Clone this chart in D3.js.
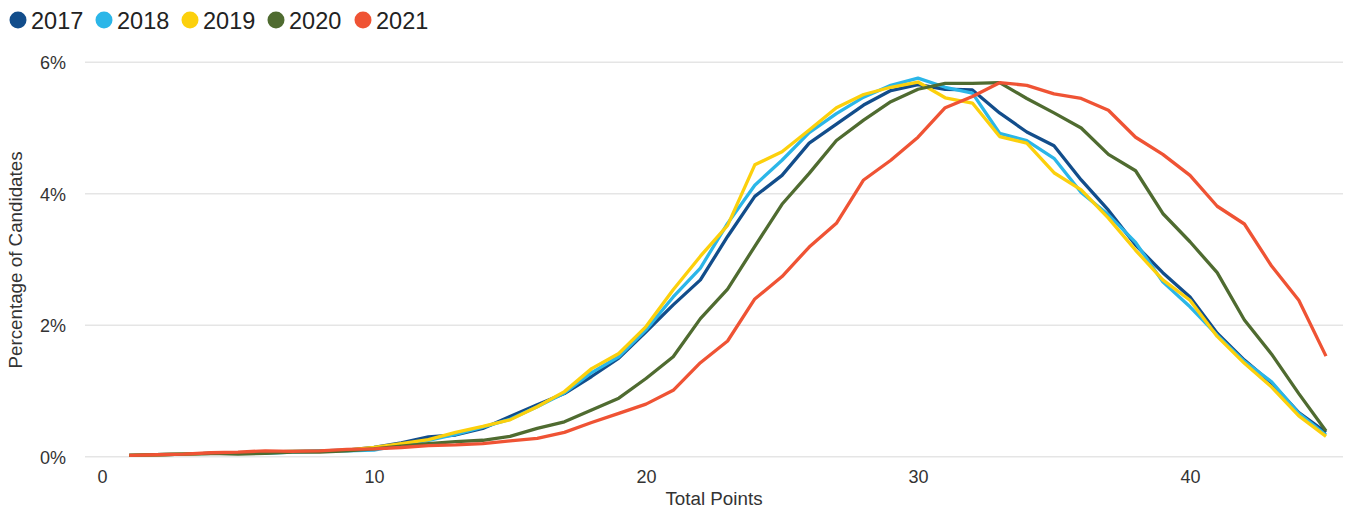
<!DOCTYPE html>
<html><head><meta charset="utf-8">
<script src="https://cdn.jsdelivr.net/npm/d3@7"></script>
<style>body{margin:0;background:#fff;font-family:"Liberation Sans",Arial,sans-serif;}</style>
</head><body><svg id="c" width="1349" height="514"></svg>
<script>
const points = d3.range(1, 46);
const years = ["2017","2018","2019","2020","2021"];
const colors = ["#124d8b","#2bb6e8","#fcd00c","#4f6b30","#ef5334"];
const s2017 = [0.02,0.03,0.04,0.05,0.06,0.07,0.08,0.09,0.10,0.14,0.21,0.30,0.33,0.43,0.61,0.79,0.96,1.22,1.50,1.90,2.31,2.69,3.35,3.96,4.28,4.77,5.06,5.35,5.57,5.66,5.59,5.58,5.23,4.94,4.73,4.21,3.75,3.22,2.80,2.43,1.88,1.47,1.12,0.67,0.37];
const s2018 = [0.02,0.03,0.04,0.05,0.06,0.05,0.07,0.08,0.09,0.10,0.18,0.25,0.34,0.45,0.57,0.76,0.97,1.28,1.52,1.93,2.43,2.87,3.55,4.13,4.51,4.93,5.22,5.47,5.65,5.76,5.62,5.53,4.92,4.81,4.54,4.02,3.68,3.26,2.66,2.28,1.85,1.45,1.14,0.66,0.33];
const s2019 = [0.02,0.03,0.04,0.05,0.06,0.07,0.08,0.08,0.10,0.14,0.20,0.26,0.37,0.46,0.56,0.76,0.99,1.34,1.57,1.98,2.54,3.05,3.52,4.44,4.64,4.97,5.31,5.51,5.62,5.70,5.46,5.38,4.87,4.77,4.32,4.06,3.63,3.14,2.69,2.38,1.83,1.42,1.06,0.62,0.31];
const s2020 = [0.02,0.03,0.04,0.05,0.04,0.05,0.07,0.07,0.09,0.12,0.16,0.20,0.23,0.25,0.31,0.43,0.53,0.71,0.89,1.19,1.52,2.10,2.55,3.20,3.84,4.31,4.81,5.12,5.40,5.59,5.68,5.68,5.69,5.45,5.23,5.00,4.60,4.35,3.70,3.27,2.80,2.08,1.56,0.96,0.39];
const s2021 = [0.02,0.03,0.04,0.06,0.07,0.09,0.08,0.09,0.11,0.12,0.14,0.17,0.18,0.20,0.24,0.28,0.37,0.52,0.66,0.80,1.01,1.43,1.76,2.40,2.74,3.19,3.55,4.21,4.51,4.86,5.31,5.48,5.69,5.65,5.52,5.45,5.27,4.86,4.60,4.28,3.81,3.54,2.90,2.38,1.53];
const seriesValues = [s2017,s2018,s2019,s2020,s2021];
const xTicks = [0,10,20,30,40];
const yTicks = [0,2,4,6];

const svg = d3.select("#c");
const x = d3.scaleLinear().domain([0,45]).range([102,1326]);
const y = d3.scaleLinear().domain([0,6]).range([456.7,62.3]);

// gridlines
svg.append("g").selectAll("line").data(yTicks).join("line")
  .attr("x1",85).attr("x2",1343)
  .attr("y1",d=>y(d)).attr("y2",d=>y(d))
  .attr("stroke","#e5e5e5").attr("stroke-width",1.5);

// y axis labels
const yAxis = d3.axisLeft(y).tickValues(yTicks).tickFormat(d=>d+"%").tickSize(0).tickPadding(0);
const gy = svg.append("g").attr("transform","translate(66,0)").call(yAxis);
gy.select(".domain").remove();
gy.selectAll("text").attr("font-size",18).attr("fill","#333").attr("font-family","Liberation Sans, Arial, sans-serif").attr("dy","0.35em");

// x axis labels
const xAxis = d3.axisBottom(x).tickValues(xTicks).tickSize(0).tickPadding(0);
const gx = svg.append("g").attr("transform","translate(0,469.5)").call(xAxis);
gx.select(".domain").remove();
gx.selectAll("text").attr("font-size",18).attr("fill","#333").attr("font-family","Liberation Sans, Arial, sans-serif").attr("dy","0.75em");

// axis titles
svg.append("text").attr("x",714).attr("y",505).attr("text-anchor","middle")
  .attr("font-size",18.8).attr("fill","#333").text("Total Points");
svg.append("text").attr("transform","translate(22,260) rotate(-90)").attr("text-anchor","middle")
  .attr("font-size",18.8).attr("fill","#333").text("Percentage of Candidates");

// lines
const line = d3.line().x((d,i)=>x(points[i])).y(d=>y(d));
svg.append("g").selectAll("path").data(seriesValues).join("path")
  .attr("d",d=>line(d)).attr("fill","none")
  .attr("stroke",(d,i)=>colors[i]).attr("stroke-width",3.3)
  .attr("stroke-linejoin","round");

// legend
const legendX = [18,104,190,276,363];
const lg = svg.append("g").selectAll("g").data(years).join("g")
  .attr("transform",(d,i)=>`translate(${legendX[i]},20)`);
lg.append("circle").attr("r",8.5).attr("fill",(d,i)=>colors[i]);
lg.append("text").attr("x",13).attr("y",8.5).attr("font-size",23.5).attr("fill","#222").text(d=>d);
</script></body></html>
